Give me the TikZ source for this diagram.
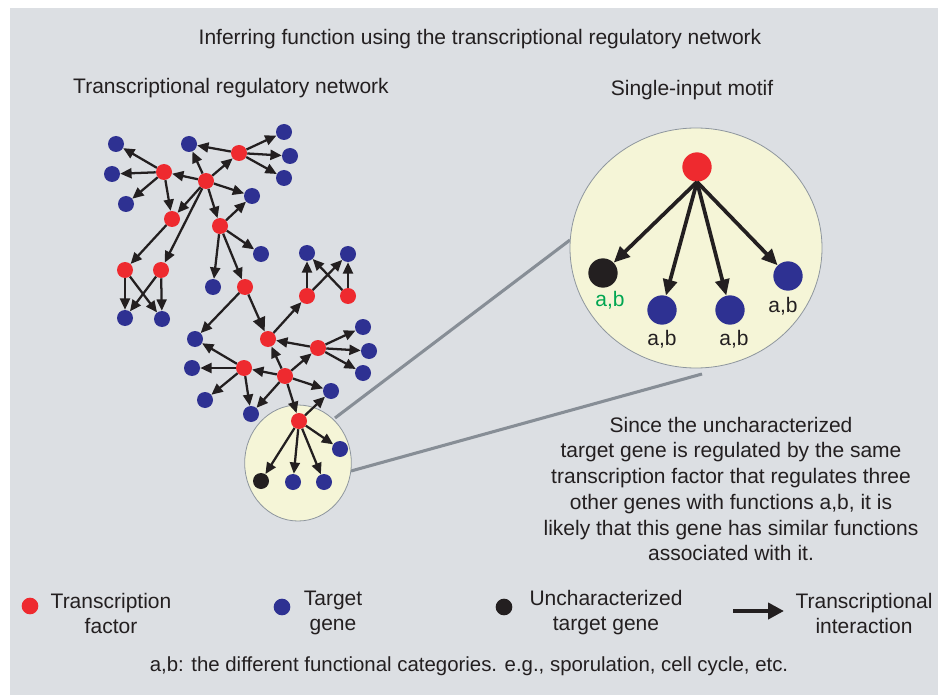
\documentclass[tikz,border=0pt]{standalone}
\usepackage{fontspec}
\setmainfont{Liberation Sans}
\usetikzlibrary{arrows.meta}
\definecolor{bg}{HTML}{DCDFE3}
\definecolor{tfred}{HTML}{EE2A2F}
\definecolor{tgblue}{HTML}{2E3192}
\definecolor{unkblack}{HTML}{231F20}
\definecolor{cream}{HTML}{F5F5D7}
\definecolor{rimgray}{HTML}{8E969E}
\definecolor{linkgray}{HTML}{878E96}
\definecolor{abgreen}{HTML}{00A651}

\begin{document}
\begin{tikzpicture}[x=0.75pt,y=-0.75pt,
  tf/.style={circle,fill=tfred,inner sep=0pt,minimum size=12pt},
  tg/.style={circle,fill=tgblue,inner sep=0pt,minimum size=12pt},
  uk/.style={circle,fill=unkblack,inner sep=0pt,minimum size=12pt},
  bigtf/.style={tf,minimum size=22pt},
  bigtg/.style={tg,minimum size=22pt},
  biguk/.style={uk,minimum size=22pt},
  reg/.style={draw=unkblack,line width=1.7pt,-{Triangle[length=8.5pt,width=7.5pt]}},
  fatreg/.style={reg,-{Triangle[length=10.5pt,width=9.5pt]}},
  bigreg/.style={draw=unkblack,line width=2.8pt,-{Triangle[length=12pt,width=10.5pt]}},
  lbl/.style={font=\fontsize{15.75}{18.75}\selectfont,text=unkblack,inner sep=0pt,align=center},
  zoomline/.style={draw=linkgray,line width=2.3pt},
  lens/.style={draw=rimgray,line width=0.6pt,fill=cream}
]
\useasboundingbox (0,0) rectangle (938,695);
\fill[bg] (10,8) rectangle (938,695);

% headings
\node[lbl] (title) at (480,39) {Inferring function using the transcriptional regulatory network};
\node[lbl] (nethead) at (231,88) {Transcriptional regulatory network};
\node[lbl] (motifhead) at (692,90) {Single-input motif};

% magnification lines between the two circles
\coordinate (zA) at (335,418);
\coordinate (zB) at (570,240);
\coordinate (zC) at (351,471);
\coordinate (zD) at (702,374);
\draw[zoomline] (zA) -- (zB);
\draw[zoomline] (zC) -- (zD);

% circles around the single-input motif
\draw[lens] (298,463) ellipse [x radius=40pt, y radius=43.5pt];
\draw[lens] (696,248) ellipse [x radius=94.5pt, y radius=90pt];

% network: transcription factors
\node[tf] (r1) at (239,153) {};
\node[tf] (r2) at (164,172) {};
\node[tf] (r3) at (206,181) {};
\node[tf] (r4) at (172,219) {};
\node[tf] (r5) at (220,226) {};
\node[tf] (r6) at (125,270) {};
\node[tf] (r7) at (161,270) {};
\node[tf] (r8) at (245,287) {};
\node[tf] (r9) at (307,296) {};
\node[tf] (r10) at (348,296) {};
\node[tf] (r11) at (268,339) {};
\node[tf] (r12) at (318,348) {};
\node[tf] (r13) at (244,368) {};
\node[tf] (r14) at (285,376) {};
\node[tf] (r15) at (299,421) {};

% network: target genes
\node[tg] (b1) at (116,144) {};
\node[tg] (b2) at (189,144) {};
\node[tg] (b3) at (284,132) {};
\node[tg] (b4) at (290,156) {};
\node[tg] (b5) at (284,178) {};
\node[tg] (b6) at (112,174) {};
\node[tg] (b7) at (126,204) {};
\node[tg] (b8) at (252,196) {};
\node[tg] (b9) at (125,318) {};
\node[tg] (b10) at (162,319) {};
\node[tg] (b11) at (261,254) {};
\node[tg] (b12) at (213,287) {};
\node[tg] (b13) at (307,253) {};
\node[tg] (b14) at (348,254) {};
\node[tg] (b15) at (195,339) {};
\node[tg] (b16) at (363,327) {};
\node[tg] (b17) at (369,351) {};
\node[tg] (b18) at (363,373) {};
\node[tg] (b19) at (192,368) {};
\node[tg] (b20) at (205,400) {};
\node[tg] (b21) at (251,414) {};
\node[tg] (b22) at (331,391) {};
\node[tg] (b23) at (340,449) {};
\node[tg] (b24) at (293,482) {};
\node[tg] (b25) at (324,482) {};
\node[uk] (k1) at (261,481) {};

% network: regulatory interactions
\foreach \s/\t in {r2/b1,r2/b6,r2/b7,r2/r4,
                   r3/r2,r3/b2,r3/r1,r3/b8,r3/r4,r3/r7,r3/r5,
                   r1/b2,r1/b3,r1/b4,r1/b5,
                   r5/b8,r4/r6,
                   r6/b9,r6/b10,r7/b9,r7/b10,
                   r5/b11,r5/b12,r5/r8,
                   r8/b15,r11/r9,
                   r9/b13,r9/b14,r10/b14,r10/b13,
                   r12/r11,r12/b16,r12/b17,r12/b18,
                   r13/b15,r13/b19,r13/b20,r13/b21,
                   r14/r13,r14/r11,r14/r12,r14/b22,r14/b21,r14/r15,
                   r15/b22,r15/b23,r15/k1,r15/b24,r15/b25}
  \draw[reg] (\s) -- (\t);
\draw[fatreg] (r8) -- (r11);

% single-input motif, enlarged
\node[bigtf] (m0) at (697,167) {};
\node[biguk] (mk) at (603,273) {};
\node[bigtg] (mb1) at (662,310) {};
\node[bigtg] (mb2) at (730,310) {};
\node[bigtg] (mb3) at (788,276) {};
\foreach \t in {mk,mb1,mb2,mb3}
  \draw[bigreg] (m0.south) -- (\t);
\node[lbl,text=abgreen] (lk) at (610,300) {a,b};
\node[lbl] (l1) at (662,339) {a,b};
\node[lbl] (l2) at (734,339) {a,b};
\node[lbl] (l3) at (783,306) {a,b};

% explanation
\node[lbl,font=\fontsize{15.75}{19.3}\selectfont] (why) at (731,489)
  {Since the uncharacterized\\
   target gene is regulated by the same\\
   transcription factor that regulates three\\
   other genes with functions a,b, it is\\
   likely that this gene has similar functions\\
   associated with it.};

% legend
\node[circle,fill=tfred,inner sep=0pt,minimum size=12.5pt] (keytf) at (30,606) {};
\node[lbl] (keytftxt) at (111,613) {Transcription\\factor};
\node[circle,fill=tgblue,inner sep=0pt,minimum size=12.5pt] (keytg) at (282,607) {};
\node[lbl] (keytgtxt) at (333,613) {Target\\gene};
\node[circle,fill=unkblack,inner sep=0pt,minimum size=12.5pt] (keyuk) at (504,607) {};
\node[lbl] (keyuktxt) at (606,613) {Uncharacterized\\target gene};
\coordinate (keyA) at (733,611);
\coordinate (keyB) at (784,611);
\draw[draw=unkblack,line width=3pt,-{Triangle[length=12pt,width=12pt]}] (keyA) -- (keyB);
\node[lbl] (keyarrtxt) at (864,613) {Transcriptional\\interaction};

\node[lbl,font=\fontsize{15.3}{18}\selectfont] (note) at (469,666) {a,b: the different functional categories. e.g., sporulation, cell cycle, etc.};
\end{tikzpicture}
\end{document}
